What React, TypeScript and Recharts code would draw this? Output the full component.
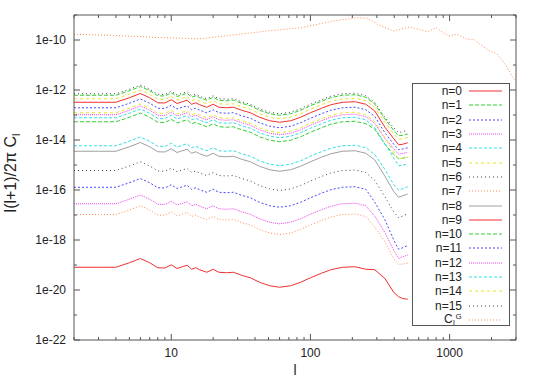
import React from "react";
import { LineChart, Line, XAxis, YAxis, Legend } from "recharts";

// multipole grid for the n-curves (body part shared, tails per curve)
const ELL = [2, 3, 4, 5, 6, 7, 8, 9, 10, 11, 12, 13, 14, 15, 16, 18, 20, 22, 25, 28, 32, 37, 43, 51, 60, 72, 85, 100, 120, 140, 170, 210, 250];
// log10 offset of the common spectrum shape relative to l=2
const SHAPE = [0, 0, 0, 0.18, 0.35, 0.18, -0.02, -0.03, 0.1, -0.05, 0.02, 0.08, -0.08, -0.02, -0.1, -0.2, -0.08, -0.2, -0.22, -0.2, -0.32, -0.42, -0.6, -0.74, -0.8, -0.74, -0.6, -0.42, -0.24, -0.1, 0, 0.02, -0.08];
const TAIL_ELL = [290, 343, 396, 430, 460, 500];

const LABELS = ["n=0", "n=1", "n=2", "n=3", "n=4", "n=5", "n=6", "n=7", "n=8", "n=9", "n=10", "n=11", "n=12", "n=13", "n=14", "n=15"];
// log10 of l(l+1)/2pi C_l at l=2
const LEVEL = [-19.09, -12.21, -15.89, -16.55, -14.23, -12.35, -15.22, -16.98, -14.45, -12.49, -13.27, -12.71, -12.99, -13.11, -12.91, -12.15];
// log10 offsets at TAIL_ELL
const TAILS = [
  [-0.1, -0.45, -1.0, -1.18, -1.25, -1.28],
  [-0.35, -0.95, -1.4, -1.62, -1.6, -1.55],
  [-0.6, -1.3, -2.1, -2.48, -2.42, -2.33],
  [-0.5, -1.15, -1.85, -2.19, -2.12, -2.05],
  [-0.35, -0.95, -1.55, -1.77, -1.72, -1.64],
  [-0.35, -0.95, -1.4, -1.62, -1.6, -1.55],
  [-0.4, -1.05, -1.65, -1.89, -1.82, -1.73],
  [-0.5, -1.1, -1.75, -2.0, -1.98, -1.95],
  [-0.35, -1.0, -1.6, -1.84, -1.78, -1.71],
  [-0.35, -1.0, -1.45, -1.7, -1.68, -1.62],
  [-0.3, -0.9, -1.3, -1.48, -1.46, -1.42],
  [-0.35, -1.0, -1.45, -1.68, -1.65, -1.6],
  [-0.35, -0.95, -1.35, -1.58, -1.55, -1.5],
  [-0.4, -1.05, -1.6, -1.92, -1.9, -1.85],
  [-0.35, -1.0, -1.55, -1.85, -1.82, -1.78],
  [-0.35, -0.95, -1.35, -1.55, -1.52, -1.45],
];

// Gaussian reference spectrum
const CLG_ELL = [2, 4, 8, 16, 28, 49, 85, 146, 215, 255, 303, 392, 520, 690, 800, 980, 1130, 1340, 1490, 1850, 2200, 2560, 2840, 3000];
const CLG_LOG = [-9.77, -9.82, -9.9, -9.95, -9.8, -9.64, -9.51, -9.24, -9.11, -9.13, -9.37, -9.64, -9.48, -9.67, -9.51, -9.84, -9.77, -9.97, -9.97, -10.37, -10.57, -11.04, -11.5, -11.63];

const X_TICKS = [2, 3, 4, 5, 6, 7, 8, 9, 10, 20, 30, 40, 50, 60, 70, 80, 90, 100, 200, 300, 400, 500, 600, 700, 800, 900, 1000, 2000, 3000];
const X_MAJOR = [10, 100, 1000];
const Y_TICKS = [1e-22, 1e-21, 1e-20, 1e-19, 1e-18, 1e-17, 1e-16, 1e-15, 1e-14, 1e-13, 1e-12, 1e-11, 1e-10, 1e-9];

const RED = "#f03030", GREEN = "#30d030", BLUE = "#4848ff", MAGENTA = "#f040f0", CYAN = "#30e0e0",
  YELLOW = "#e6e620", BLACK = "#404040", ORANGE = "#ff8c50", GRAY = "#a0a0a0";
const LT_COLORS = [RED, GREEN, BLUE, MAGENTA, CYAN, YELLOW, BLACK, ORANGE, GRAY];
const LT_DASH = [undefined, "4 2", "2 2", "1 1", "3 2", "3 3", "1 3", "1 2", undefined];

const FONT = "'Liberation Sans', Arial, sans-serif";
const AXIS = "#555";

const series = LABELS.map((name, i) => ({
  name,
  color: LT_COLORS[i % 9],
  dash: LT_DASH[i % 9],
  data: [
    ...ELL.map((l, k) => ({ l, v: 10 ** (LEVEL[i] + SHAPE[k]) })),
    ...TAIL_ELL.map((l, k) => ({ l, v: 10 ** (LEVEL[i] + TAILS[i][k]) })),
  ],
}));
const clg = CLG_ELL.map((l, k) => ({ l, v: 10 ** CLG_LOG[k] }));
const LEGEND_ORDER = [...LABELS, "CG"];

const XTickBottom = (p: any) => {
  const v = p.payload.value;
  const major = X_MAJOR.includes(v);
  return (
    <g>
      <line x1={p.x} x2={p.x} y1={p.y} y2={p.y - (major ? 6 : 3)} stroke={AXIS} />
      {major && (
        <text x={p.x} y={p.y + 17} textAnchor="middle" fontSize={12} fontFamily={FONT} fill="#222">{v}</text>
      )}
    </g>
  );
};
const XTickTop = (p: any) => {
  const major = X_MAJOR.includes(p.payload.value);
  return <line x1={p.x} x2={p.x} y1={p.y} y2={p.y + (major ? 6 : 3)} stroke={AXIS} />;
};
const YTickLeft = (p: any) => {
  const e = Math.round(Math.log10(p.payload.value));
  const major = e % 2 === 0 && e <= -10;
  return (
    <g>
      <line x1={p.x} x2={p.x + (major ? 6 : 3)} y1={p.y} y2={p.y} stroke={AXIS} />
      {major && (
        <text x={p.x - 8} y={p.y + 4} textAnchor="end" fontSize={12} fontFamily={FONT} fill="#222">{`1e${e}`}</text>
      )}
    </g>
  );
};
const YTickRight = (p: any) => {
  const e = Math.round(Math.log10(p.payload.value));
  const major = e % 2 === 0;
  return <line x1={p.x} x2={p.x - (major ? 6 : 3)} y1={p.y} y2={p.y} stroke={AXIS} />;
};

const LegendBox = (props: any) => {
  const payload = props.payload || [];
  const items = LEGEND_ORDER.map((name) => payload.find((e: any) => e.value === name)).filter(Boolean);
  return (
    <div style={{ width: 98, height: 243, border: `1px solid ${AXIS}`, background: "#fff", boxSizing: "border-box", fontFamily: FONT, fontSize: 12, color: "#222" }}>
      {items.map((e: any, i: number) => {
        const isG = e.value === "CG";
        const s = isG ? { color: ORANGE, dash: LT_DASH[7] } : series[LABELS.indexOf(e.value)];
        return (
          <div key={i} style={{ height: 14.3, display: "flex", alignItems: "center" }}>
            <span style={{ width: 49, textAlign: "right", lineHeight: "12px", position: "relative" }}>
              {isG ? (
                <span style={{ display: "inline-block", position: "relative", width: 18, height: 12, textAlign: "left" }}>
                  <span style={{ position: "absolute", left: 0, top: 0 }}>C</span>
                  <span style={{ position: "absolute", left: 11.5, top: 0, fontSize: 8, lineHeight: "8px" }}>G</span>
                  <span style={{ position: "absolute", left: 9, top: 6, fontSize: 8, lineHeight: "8px" }}>l</span>
                </span>
              ) : e.value}
            </span>
            <svg width={41} height={6} style={{ display: "block" }}>
              <line x1={7} x2={40} y1={3} y2={3} stroke={s.color} strokeDasharray={s.dash} />
            </svg>
          </div>
        );
      })}
    </div>
  );
};

export default function App() {
  return (
    <div style={{ position: "absolute", left: 0, top: 0, width: 540, height: 382, background: "#fff" }}>
      <LineChart width={540} height={382} margin={{ top: 14, right: 23, bottom: 41, left: 73 }}>
        <XAxis xAxisId="b" dataKey="l" type="number" scale="log" domain={[2, 3000]} allowDataOverflow
          ticks={X_TICKS} interval={0} height={1} tickSize={0} tickMargin={0} tickLine={false}
          tick={XTickBottom} stroke={AXIS}
          label={{ value: "l", position: "bottom", offset: 24, fontSize: 14, fontFamily: FONT, fill: "#222" }} />
        <XAxis xAxisId="t" orientation="top" dataKey="l" type="number" scale="log" domain={[2, 3000]} allowDataOverflow
          ticks={X_TICKS} interval={0} height={1} tickSize={0} tickMargin={0} tickLine={false}
          tick={XTickTop} stroke={AXIS} />
        <YAxis yAxisId="l" type="number" scale="log" domain={[1e-22, 1e-9]} allowDataOverflow
          ticks={Y_TICKS} interval={0} width={1} tickSize={0} tickMargin={0} tickLine={false}
          tick={YTickLeft} stroke={AXIS} />
        <YAxis yAxisId="r" orientation="right" type="number" scale="log" domain={[1e-22, 1e-9]} allowDataOverflow
          ticks={Y_TICKS} interval={0} width={1} tickSize={0} tickMargin={0} tickLine={false}
          tick={YTickRight} stroke={AXIS} />
        {series.map((s) => (
          <Line key={s.name} xAxisId="b" yAxisId="l" data={s.data} dataKey="v" name={s.name}
            type="linear" stroke={s.color} strokeWidth={1} strokeDasharray={s.dash}
            dot={false} isAnimationActive={false} />
        ))}
        <Line xAxisId="b" yAxisId="l" data={clg} dataKey="v" name="CG" type="linear" stroke={ORANGE}
          strokeWidth={1} strokeDasharray={LT_DASH[7]} dot={false} isAnimationActive={false} />
        <Legend layout="vertical" align="center" verticalAlign="middle" content={LegendBox}
          wrapperStyle={{ left: 412, top: 83, width: 98, height: 243 }} />
      </LineChart>
      <div style={{ position: "absolute", left: 12, top: 173, transform: "translate(-50%, -50%) rotate(-90deg)", whiteSpace: "nowrap", fontFamily: FONT, fontSize: 16, color: "#222" }}>
        l(l+1)/2π C<sub style={{ fontSize: 11 }}>l</sub>
      </div>
    </div>
  );
}
